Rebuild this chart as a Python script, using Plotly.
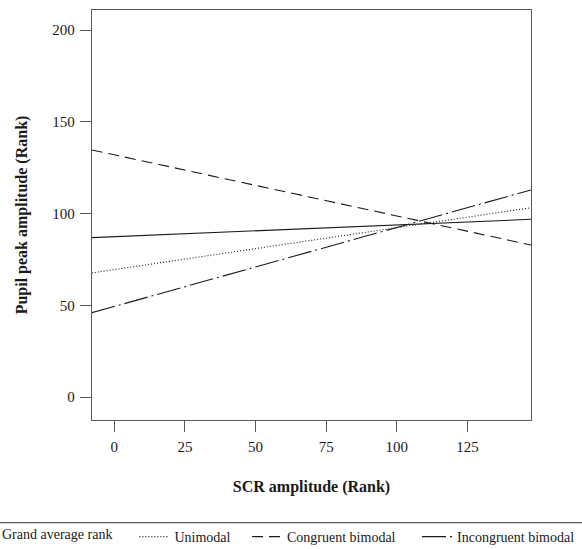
import plotly.graph_objects as go

# Data
x_ends = [-8, 147.5]
grand_avg = [86.9, 96.9]
unimodal = [67.7, 103.2]
congruent = [134.7, 82.9]
incongruent = [46.0, 112.9]

x_ticks = [0, 25, 50, 75, 100, 125]
y_ticks = [0, 50, 100, 150, 200]

W, H = 582, 549
ML, MR, MT, MB = 92, 51, 10, 129
PW = W - ML - MR
PH = H - MT - MB

FONT = "Liberation Serif"
INK = "#1a1a1a"
AX = "#5a5a5a"

fig = go.Figure()
fig.add_trace(go.Scatter(x=x_ends, y=grand_avg, mode="lines", name="Grand average rank",
                         line=dict(color=INK, width=1.1), showlegend=False))
fig.add_trace(go.Scatter(x=x_ends, y=unimodal, mode="lines", name="Unimodal",
                         line=dict(color=INK, width=1.1, dash="1px,2px"), legend="legend"))
fig.add_trace(go.Scatter(x=x_ends, y=congruent, mode="lines", name="Congruent bimodal",
                         line=dict(color=INK, width=1.1, dash="11px,6px"), legend="legend2"))
fig.add_trace(go.Scatter(x=x_ends, y=incongruent, mode="lines", name="Incongruent bimodal",
                         line=dict(color=INK, width=1.1, dash="24px,4px,2px,4px"), legend="legend3"))

leg_common = dict(orientation="h", xref="container", yref="container", yanchor="middle",
                  font=dict(family=FONT, size=14, color=INK), itemwidth=30,
                  bgcolor="rgba(0,0,0,0)", borderwidth=0)

fig.update_layout(
    width=W, height=H,
    margin=dict(l=ML, r=MR, t=MT, b=MB, autoexpand=False),
    paper_bgcolor="white", plot_bgcolor="white",
    font=dict(family=FONT, color=INK, size=15),
    xaxis=dict(range=[-7.9, 147.5], tickvals=x_ticks, ticks="outside", ticklen=11,
               tickwidth=1.3, tickcolor=AX, showline=True, linecolor=AX, linewidth=1.3,
               mirror=True, showgrid=False, zeroline=False, automargin=False,
               tickfont=dict(family=FONT, size=15, color=INK), ticklabelstandoff=2,
               title=dict(text="<b>SCR amplitude (Rank)</b>", standoff=26,
                          font=dict(family=FONT, size=16, color=INK))),
    yaxis=dict(range=[-12.4, 210.9], tickvals=y_ticks, ticks="outside", ticklen=11,
               tickwidth=1.3, tickcolor=AX, showline=True, linecolor=AX, linewidth=1.3,
               mirror=True, showgrid=False, zeroline=False, automargin=False,
               tickfont=dict(family=FONT, size=15, color=INK), ticklabelstandoff=2,
               title=dict(text="<b>Pupil peak amplitude (Rank)</b>", standoff=20,
                          font=dict(family=FONT, size=16, color=INK))),
    legend=dict(x=0.0, y=1 - 537 / H, xanchor="left",
                title=dict(text="Grand average rank&nbsp;&nbsp;&nbsp;&nbsp;", side="left",
                           font=dict(family=FONT, size=14, color=INK)), **leg_common),
    legend2=dict(x=(252 - 5) / W, y=1 - 537 / H, xanchor="left", **leg_common),
    legend3=dict(x=(422 - 5) / W, y=1 - 537 / H, xanchor="left", **leg_common),
    shapes=[dict(type="line", xref="paper", yref="paper",
                 x0=-ML / PW, x1=(W - ML) / PW,
                 y0=-(522.7 - (MT + PH)) / PH, y1=-(522.7 - (MT + PH)) / PH,
                 line=dict(color=AX, width=1.3))],
)

fig.write_html("out.html", config={"displayModeBar": False},
               post_script="document.body.style.margin='0';document.body.style.overflow='hidden';")
